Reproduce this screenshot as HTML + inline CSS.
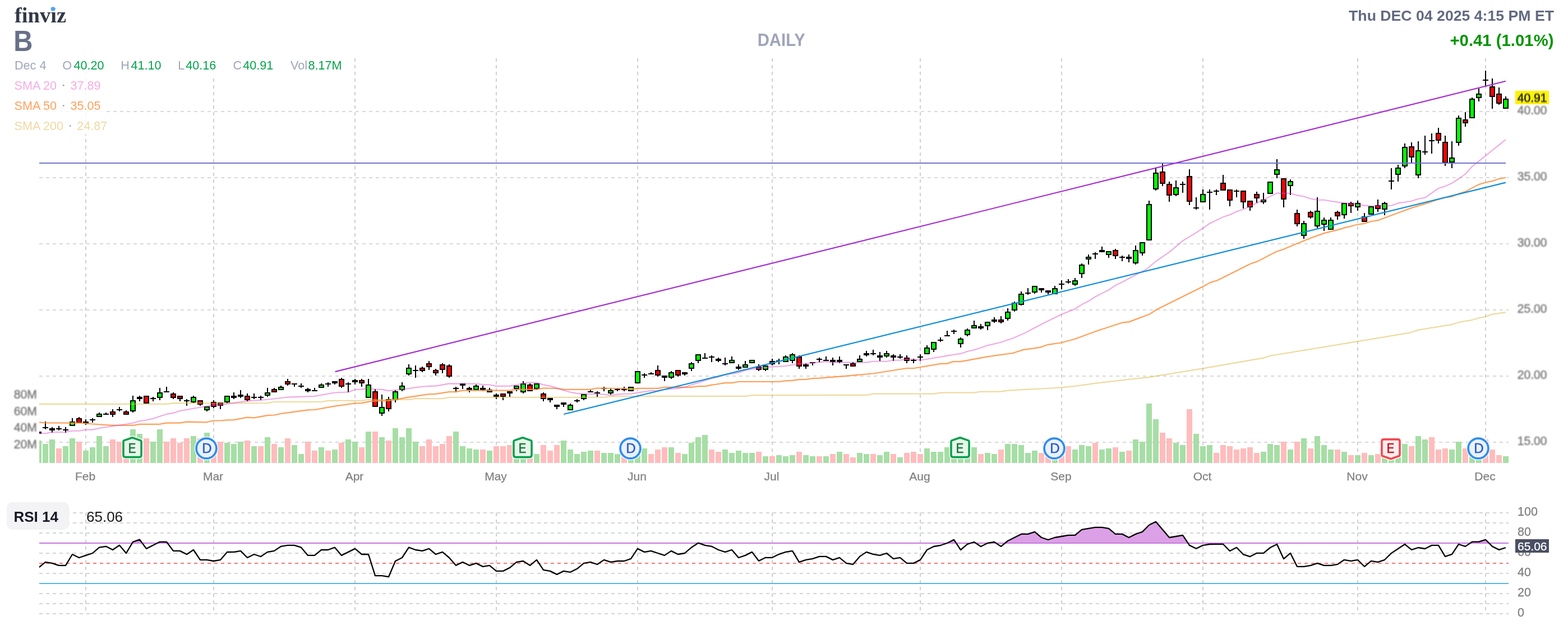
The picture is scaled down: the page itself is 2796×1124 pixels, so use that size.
<!DOCTYPE html><html><head><meta charset="utf-8"><title>B - finviz</title>
<style>html,body{margin:0;padding:0;background:#fff;}svg{display:block;will-change:transform}text{font-family:"Liberation Sans",sans-serif;}</style></head><body>
<svg width="2796" height="1124" viewBox="0 0 2796 1124">
<rect width="2796" height="1124" fill="#fff"/>
<defs><clipPath id="cp"><rect x="70" y="100" width="2620" height="730"/></clipPath><clipPath id="cr"><rect x="70" y="905" width="2620" height="200"/></clipPath><clipPath id="c70"><rect x="70" y="905" width="2620" height="64"/></clipPath><filter id="bl2" x="-5%" y="-20%" width="110%" height="140%"><feGaussianBlur stdDeviation="0.4"/></filter><filter id="bl" x="-5%" y="-20%" width="110%" height="140%"><feGaussianBlur stdDeviation="0.8"/></filter></defs>
<g stroke="#cfcfcf" stroke-width="2" stroke-dasharray="6 6" shape-rendering="crispEdges" fill="none">
<line x1="153" y1="104" x2="153" y2="826"/>
<line x1="153" y1="915" x2="153" y2="1095"/>
<line x1="381" y1="104" x2="381" y2="826"/>
<line x1="381" y1="915" x2="381" y2="1095"/>
<line x1="633" y1="104" x2="633" y2="826"/>
<line x1="633" y1="915" x2="633" y2="1095"/>
<line x1="885" y1="104" x2="885" y2="826"/>
<line x1="885" y1="915" x2="885" y2="1095"/>
<line x1="1137" y1="104" x2="1137" y2="826"/>
<line x1="1137" y1="915" x2="1137" y2="1095"/>
<line x1="1377" y1="104" x2="1377" y2="826"/>
<line x1="1377" y1="915" x2="1377" y2="1095"/>
<line x1="1641" y1="104" x2="1641" y2="826"/>
<line x1="1641" y1="915" x2="1641" y2="1095"/>
<line x1="1893" y1="104" x2="1893" y2="826"/>
<line x1="1893" y1="915" x2="1893" y2="1095"/>
<line x1="2145" y1="104" x2="2145" y2="826"/>
<line x1="2145" y1="915" x2="2145" y2="1095"/>
<line x1="2421" y1="104" x2="2421" y2="826"/>
<line x1="2421" y1="915" x2="2421" y2="1095"/>
<line x1="2649" y1="104" x2="2649" y2="826"/>
<line x1="2649" y1="915" x2="2649" y2="1095"/>
<line x1="70" y1="199" x2="2690" y2="199" stroke="#d9d9d9"/>
<line x1="70" y1="317" x2="2690" y2="317" stroke="#d9d9d9"/>
<line x1="70" y1="435" x2="2690" y2="435" stroke="#d9d9d9"/>
<line x1="70" y1="553" x2="2690" y2="553" stroke="#d9d9d9"/>
<line x1="70" y1="671" x2="2690" y2="671" stroke="#d9d9d9"/>
<line x1="70" y1="789" x2="2690" y2="789" stroke="#d9d9d9"/>
<line x1="70" y1="915" x2="2690" y2="915" stroke="#d4d4d4"/>
<line x1="70" y1="933" x2="2690" y2="933" stroke="#d4d4d4"/>
<line x1="70" y1="951" x2="2690" y2="951" stroke="#d4d4d4"/>
<line x1="70" y1="987" x2="2690" y2="987" stroke="#d4d4d4"/>
<line x1="70" y1="1023" x2="2690" y2="1023" stroke="#d4d4d4"/>
<line x1="70" y1="1059" x2="2690" y2="1059" stroke="#d4d4d4"/>
<line x1="70" y1="1077" x2="2690" y2="1077" stroke="#d4d4d4"/>
<line x1="70" y1="1095" x2="2690" y2="1095" stroke="#d4d4d4"/>
</g>
<g shape-rendering="crispEdges" clip-path="url(#cp)">
<rect x="64" y="786" width="10" height="40" fill="#a6dea5"/>
<rect x="76" y="792" width="10" height="34" fill="#a6dea5"/>
<rect x="88" y="784" width="10" height="42" fill="#a6dea5"/>
<rect x="100" y="800" width="10" height="26" fill="#ffbcbc"/>
<rect x="112" y="796" width="10" height="30" fill="#a6dea5"/>
<rect x="124" y="782" width="10" height="44" fill="#a6dea5"/>
<rect x="136" y="788" width="10" height="38" fill="#ffbcbc"/>
<rect x="148" y="804" width="10" height="22" fill="#a6dea5"/>
<rect x="160" y="798" width="10" height="28" fill="#a6dea5"/>
<rect x="172" y="778" width="10" height="48" fill="#a6dea5"/>
<rect x="184" y="796" width="10" height="30" fill="#a6dea5"/>
<rect x="196" y="784" width="10" height="42" fill="#ffbcbc"/>
<rect x="208" y="788" width="10" height="38" fill="#ffbcbc"/>
<rect x="220" y="788" width="10" height="38" fill="#ffbcbc"/>
<rect x="232" y="766" width="10" height="60" fill="#a6dea5"/>
<rect x="244" y="774" width="10" height="52" fill="#a6dea5"/>
<rect x="256" y="782" width="10" height="44" fill="#ffbcbc"/>
<rect x="268" y="788" width="10" height="38" fill="#a6dea5"/>
<rect x="280" y="766" width="10" height="60" fill="#a6dea5"/>
<rect x="292" y="788" width="10" height="38" fill="#ffbcbc"/>
<rect x="304" y="782" width="10" height="44" fill="#ffbcbc"/>
<rect x="316" y="790" width="10" height="36" fill="#ffbcbc"/>
<rect x="328" y="782" width="10" height="44" fill="#ffbcbc"/>
<rect x="340" y="778" width="10" height="48" fill="#a6dea5"/>
<rect x="352" y="782" width="10" height="44" fill="#ffbcbc"/>
<rect x="364" y="772" width="10" height="54" fill="#a6dea5"/>
<rect x="376" y="788" width="10" height="38" fill="#ffbcbc"/>
<rect x="388" y="788" width="10" height="38" fill="#ffbcbc"/>
<rect x="400" y="790" width="10" height="36" fill="#a6dea5"/>
<rect x="412" y="792" width="10" height="34" fill="#a6dea5"/>
<rect x="424" y="788" width="10" height="38" fill="#a6dea5"/>
<rect x="436" y="786" width="10" height="40" fill="#ffbcbc"/>
<rect x="448" y="796" width="10" height="30" fill="#a6dea5"/>
<rect x="460" y="796" width="10" height="30" fill="#ffbcbc"/>
<rect x="472" y="780" width="10" height="46" fill="#a6dea5"/>
<rect x="484" y="792" width="10" height="34" fill="#ffbcbc"/>
<rect x="496" y="798" width="10" height="28" fill="#a6dea5"/>
<rect x="508" y="782" width="10" height="44" fill="#ffbcbc"/>
<rect x="520" y="794" width="10" height="32" fill="#a6dea5"/>
<rect x="532" y="810" width="10" height="16" fill="#a6dea5"/>
<rect x="544" y="788" width="10" height="38" fill="#ffbcbc"/>
<rect x="556" y="804" width="10" height="22" fill="#ffbcbc"/>
<rect x="568" y="798" width="10" height="28" fill="#a6dea5"/>
<rect x="580" y="804" width="10" height="22" fill="#ffbcbc"/>
<rect x="592" y="802" width="10" height="24" fill="#a6dea5"/>
<rect x="604" y="790" width="10" height="36" fill="#ffbcbc"/>
<rect x="616" y="784" width="10" height="42" fill="#a6dea5"/>
<rect x="628" y="788" width="10" height="38" fill="#a6dea5"/>
<rect x="640" y="798" width="10" height="28" fill="#ffbcbc"/>
<rect x="652" y="770" width="10" height="56" fill="#a6dea5"/>
<rect x="664" y="770" width="10" height="56" fill="#ffbcbc"/>
<rect x="676" y="780" width="10" height="46" fill="#a6dea5"/>
<rect x="688" y="786" width="10" height="40" fill="#ffbcbc"/>
<rect x="700" y="764" width="10" height="62" fill="#a6dea5"/>
<rect x="712" y="780" width="10" height="46" fill="#a6dea5"/>
<rect x="724" y="764" width="10" height="62" fill="#a6dea5"/>
<rect x="736" y="788" width="10" height="38" fill="#a6dea5"/>
<rect x="748" y="796" width="10" height="30" fill="#ffbcbc"/>
<rect x="760" y="784" width="10" height="42" fill="#ffbcbc"/>
<rect x="772" y="796" width="10" height="30" fill="#ffbcbc"/>
<rect x="784" y="792" width="10" height="34" fill="#ffbcbc"/>
<rect x="796" y="778" width="10" height="48" fill="#ffbcbc"/>
<rect x="808" y="770" width="10" height="56" fill="#a6dea5"/>
<rect x="820" y="796" width="10" height="30" fill="#a6dea5"/>
<rect x="832" y="800" width="10" height="26" fill="#a6dea5"/>
<rect x="844" y="802" width="10" height="24" fill="#a6dea5"/>
<rect x="856" y="802" width="10" height="24" fill="#ffbcbc"/>
<rect x="868" y="804" width="10" height="22" fill="#a6dea5"/>
<rect x="880" y="796" width="10" height="30" fill="#ffbcbc"/>
<rect x="892" y="796" width="10" height="30" fill="#ffbcbc"/>
<rect x="904" y="794" width="10" height="32" fill="#ffbcbc"/>
<rect x="916" y="796" width="10" height="30" fill="#a6dea5"/>
<rect x="928" y="790" width="10" height="36" fill="#a6dea5"/>
<rect x="940" y="796" width="10" height="30" fill="#ffbcbc"/>
<rect x="952" y="810" width="10" height="16" fill="#a6dea5"/>
<rect x="964" y="794" width="10" height="32" fill="#ffbcbc"/>
<rect x="976" y="804" width="10" height="22" fill="#ffbcbc"/>
<rect x="988" y="794" width="10" height="32" fill="#ffbcbc"/>
<rect x="1000" y="786" width="10" height="40" fill="#a6dea5"/>
<rect x="1012" y="802" width="10" height="24" fill="#a6dea5"/>
<rect x="1024" y="810" width="10" height="16" fill="#a6dea5"/>
<rect x="1036" y="806" width="10" height="20" fill="#a6dea5"/>
<rect x="1048" y="804" width="10" height="22" fill="#a6dea5"/>
<rect x="1060" y="804" width="10" height="22" fill="#ffbcbc"/>
<rect x="1072" y="808" width="10" height="18" fill="#a6dea5"/>
<rect x="1084" y="808" width="10" height="18" fill="#a6dea5"/>
<rect x="1096" y="810" width="10" height="16" fill="#a6dea5"/>
<rect x="1108" y="810" width="10" height="16" fill="#ffbcbc"/>
<rect x="1120" y="806" width="10" height="20" fill="#a6dea5"/>
<rect x="1132" y="798" width="10" height="28" fill="#a6dea5"/>
<rect x="1144" y="800" width="10" height="26" fill="#a6dea5"/>
<rect x="1156" y="810" width="10" height="16" fill="#ffbcbc"/>
<rect x="1168" y="802" width="10" height="24" fill="#ffbcbc"/>
<rect x="1180" y="798" width="10" height="28" fill="#ffbcbc"/>
<rect x="1192" y="798" width="10" height="28" fill="#a6dea5"/>
<rect x="1204" y="808" width="10" height="18" fill="#ffbcbc"/>
<rect x="1216" y="810" width="10" height="16" fill="#a6dea5"/>
<rect x="1228" y="790" width="10" height="36" fill="#a6dea5"/>
<rect x="1240" y="780" width="10" height="46" fill="#a6dea5"/>
<rect x="1252" y="776" width="10" height="50" fill="#a6dea5"/>
<rect x="1264" y="802" width="10" height="24" fill="#ffbcbc"/>
<rect x="1276" y="806" width="10" height="20" fill="#ffbcbc"/>
<rect x="1288" y="802" width="10" height="24" fill="#a6dea5"/>
<rect x="1300" y="808" width="10" height="18" fill="#a6dea5"/>
<rect x="1312" y="804" width="10" height="22" fill="#a6dea5"/>
<rect x="1324" y="808" width="10" height="18" fill="#a6dea5"/>
<rect x="1336" y="808" width="10" height="18" fill="#a6dea5"/>
<rect x="1348" y="806" width="10" height="20" fill="#ffbcbc"/>
<rect x="1360" y="814" width="10" height="12" fill="#a6dea5"/>
<rect x="1372" y="814" width="10" height="12" fill="#ffbcbc"/>
<rect x="1384" y="812" width="10" height="14" fill="#a6dea5"/>
<rect x="1396" y="814" width="10" height="12" fill="#a6dea5"/>
<rect x="1408" y="812" width="10" height="14" fill="#a6dea5"/>
<rect x="1420" y="806" width="10" height="20" fill="#ffbcbc"/>
<rect x="1432" y="812" width="10" height="14" fill="#a6dea5"/>
<rect x="1444" y="814" width="10" height="12" fill="#a6dea5"/>
<rect x="1456" y="814" width="10" height="12" fill="#ffbcbc"/>
<rect x="1468" y="814" width="10" height="12" fill="#a6dea5"/>
<rect x="1480" y="810" width="10" height="16" fill="#ffbcbc"/>
<rect x="1492" y="806" width="10" height="20" fill="#a6dea5"/>
<rect x="1504" y="810" width="10" height="16" fill="#ffbcbc"/>
<rect x="1516" y="816" width="10" height="10" fill="#ffbcbc"/>
<rect x="1528" y="808" width="10" height="18" fill="#a6dea5"/>
<rect x="1540" y="810" width="10" height="16" fill="#a6dea5"/>
<rect x="1552" y="810" width="10" height="16" fill="#ffbcbc"/>
<rect x="1564" y="812" width="10" height="14" fill="#a6dea5"/>
<rect x="1576" y="806" width="10" height="20" fill="#a6dea5"/>
<rect x="1588" y="810" width="10" height="16" fill="#ffbcbc"/>
<rect x="1600" y="816" width="10" height="10" fill="#a6dea5"/>
<rect x="1612" y="808" width="10" height="18" fill="#ffbcbc"/>
<rect x="1624" y="806" width="10" height="20" fill="#ffbcbc"/>
<rect x="1636" y="810" width="10" height="16" fill="#ffbcbc"/>
<rect x="1648" y="800" width="10" height="26" fill="#a6dea5"/>
<rect x="1660" y="806" width="10" height="20" fill="#a6dea5"/>
<rect x="1672" y="806" width="10" height="20" fill="#a6dea5"/>
<rect x="1684" y="798" width="10" height="28" fill="#a6dea5"/>
<rect x="1696" y="802" width="10" height="24" fill="#a6dea5"/>
<rect x="1708" y="796" width="10" height="30" fill="#a6dea5"/>
<rect x="1720" y="800" width="10" height="26" fill="#a6dea5"/>
<rect x="1732" y="798" width="10" height="28" fill="#a6dea5"/>
<rect x="1744" y="810" width="10" height="16" fill="#ffbcbc"/>
<rect x="1756" y="808" width="10" height="18" fill="#a6dea5"/>
<rect x="1768" y="810" width="10" height="16" fill="#a6dea5"/>
<rect x="1780" y="802" width="10" height="24" fill="#ffbcbc"/>
<rect x="1792" y="792" width="10" height="34" fill="#a6dea5"/>
<rect x="1804" y="792" width="10" height="34" fill="#a6dea5"/>
<rect x="1816" y="794" width="10" height="32" fill="#a6dea5"/>
<rect x="1828" y="808" width="10" height="18" fill="#a6dea5"/>
<rect x="1840" y="804" width="10" height="22" fill="#a6dea5"/>
<rect x="1852" y="808" width="10" height="18" fill="#ffbcbc"/>
<rect x="1864" y="810" width="10" height="16" fill="#ffbcbc"/>
<rect x="1876" y="806" width="10" height="20" fill="#a6dea5"/>
<rect x="1888" y="804" width="10" height="22" fill="#ffbcbc"/>
<rect x="1900" y="796" width="10" height="30" fill="#ffbcbc"/>
<rect x="1912" y="802" width="10" height="24" fill="#a6dea5"/>
<rect x="1924" y="794" width="10" height="32" fill="#a6dea5"/>
<rect x="1936" y="796" width="10" height="30" fill="#a6dea5"/>
<rect x="1948" y="790" width="10" height="36" fill="#ffbcbc"/>
<rect x="1960" y="802" width="10" height="24" fill="#a6dea5"/>
<rect x="1972" y="800" width="10" height="26" fill="#a6dea5"/>
<rect x="1984" y="798" width="10" height="28" fill="#ffbcbc"/>
<rect x="1996" y="806" width="10" height="20" fill="#a6dea5"/>
<rect x="2008" y="804" width="10" height="22" fill="#ffbcbc"/>
<rect x="2020" y="784" width="10" height="42" fill="#a6dea5"/>
<rect x="2032" y="788" width="10" height="38" fill="#a6dea5"/>
<rect x="2044" y="720" width="10" height="106" fill="#a6dea5"/>
<rect x="2056" y="748" width="10" height="78" fill="#a6dea5"/>
<rect x="2068" y="772" width="10" height="54" fill="#ffbcbc"/>
<rect x="2080" y="782" width="10" height="44" fill="#ffbcbc"/>
<rect x="2092" y="790" width="10" height="36" fill="#a6dea5"/>
<rect x="2104" y="794" width="10" height="32" fill="#a6dea5"/>
<rect x="2116" y="730" width="10" height="96" fill="#ffbcbc"/>
<rect x="2128" y="774" width="10" height="52" fill="#a6dea5"/>
<rect x="2140" y="796" width="10" height="30" fill="#a6dea5"/>
<rect x="2152" y="794" width="10" height="32" fill="#a6dea5"/>
<rect x="2164" y="808" width="10" height="18" fill="#ffbcbc"/>
<rect x="2176" y="794" width="10" height="32" fill="#ffbcbc"/>
<rect x="2188" y="796" width="10" height="30" fill="#ffbcbc"/>
<rect x="2200" y="802" width="10" height="24" fill="#ffbcbc"/>
<rect x="2212" y="800" width="10" height="26" fill="#ffbcbc"/>
<rect x="2224" y="798" width="10" height="28" fill="#ffbcbc"/>
<rect x="2236" y="808" width="10" height="18" fill="#ffbcbc"/>
<rect x="2248" y="806" width="10" height="20" fill="#a6dea5"/>
<rect x="2260" y="792" width="10" height="34" fill="#a6dea5"/>
<rect x="2272" y="794" width="10" height="32" fill="#a6dea5"/>
<rect x="2284" y="788" width="10" height="38" fill="#ffbcbc"/>
<rect x="2296" y="802" width="10" height="24" fill="#a6dea5"/>
<rect x="2308" y="788" width="10" height="38" fill="#ffbcbc"/>
<rect x="2320" y="782" width="10" height="44" fill="#a6dea5"/>
<rect x="2332" y="800" width="10" height="26" fill="#ffbcbc"/>
<rect x="2344" y="778" width="10" height="48" fill="#a6dea5"/>
<rect x="2356" y="794" width="10" height="32" fill="#a6dea5"/>
<rect x="2368" y="802" width="10" height="24" fill="#a6dea5"/>
<rect x="2380" y="802" width="10" height="24" fill="#ffbcbc"/>
<rect x="2392" y="806" width="10" height="20" fill="#a6dea5"/>
<rect x="2404" y="812" width="10" height="14" fill="#ffbcbc"/>
<rect x="2416" y="812" width="10" height="14" fill="#a6dea5"/>
<rect x="2428" y="808" width="10" height="18" fill="#ffbcbc"/>
<rect x="2440" y="812" width="10" height="14" fill="#a6dea5"/>
<rect x="2452" y="810" width="10" height="16" fill="#ffbcbc"/>
<rect x="2464" y="806" width="10" height="20" fill="#a6dea5"/>
<rect x="2476" y="796" width="10" height="30" fill="#a6dea5"/>
<rect x="2488" y="796" width="10" height="30" fill="#a6dea5"/>
<rect x="2500" y="792" width="10" height="34" fill="#a6dea5"/>
<rect x="2512" y="796" width="10" height="30" fill="#ffbcbc"/>
<rect x="2524" y="778" width="10" height="48" fill="#a6dea5"/>
<rect x="2536" y="784" width="10" height="42" fill="#a6dea5"/>
<rect x="2548" y="780" width="10" height="46" fill="#ffbcbc"/>
<rect x="2560" y="802" width="10" height="24" fill="#ffbcbc"/>
<rect x="2572" y="800" width="10" height="26" fill="#ffbcbc"/>
<rect x="2584" y="802" width="10" height="24" fill="#a6dea5"/>
<rect x="2596" y="788" width="10" height="38" fill="#a6dea5"/>
<rect x="2608" y="800" width="10" height="26" fill="#ffbcbc"/>
<rect x="2620" y="800" width="10" height="26" fill="#a6dea5"/>
<rect x="2632" y="796" width="10" height="30" fill="#a6dea5"/>
<rect x="2644" y="784" width="10" height="42" fill="#ffbcbc"/>
<rect x="2656" y="802" width="10" height="24" fill="#ffbcbc"/>
<rect x="2668" y="812" width="10" height="14" fill="#ffbcbc"/>
<rect x="2680" y="814" width="10" height="12" fill="#a6dea5"/>
</g>
<g shape-rendering="crispEdges" clip-path="url(#cp)">
<rect x="68" y="752" width="2" height="22" fill="#000"/>
<rect x="64" y="770" width="10" height="4" fill="#000"/>
<rect x="80" y="752" width="2" height="14" fill="#000"/>
<rect x="76" y="762" width="10" height="2" fill="#000"/>
<rect x="92" y="762" width="2" height="10" fill="#000"/>
<rect x="88" y="764" width="10" height="4" fill="#000"/>
<rect x="104" y="760" width="2" height="8" fill="#000"/>
<rect x="100" y="764" width="10" height="2" fill="#000"/>
<rect x="116" y="762" width="2" height="10" fill="#000"/>
<rect x="112" y="766" width="10" height="2" fill="#000"/>
<rect x="128" y="746" width="2" height="14" fill="#000"/>
<rect x="124" y="752" width="10" height="8" fill="#000"/>
<rect x="126" y="754" width="6" height="4" fill="#00ff00"/>
<rect x="140" y="744" width="2" height="11" fill="#000"/>
<rect x="136" y="746" width="10" height="9" fill="#000"/>
<rect x="138" y="748" width="6" height="5" fill="#ff0000"/>
<rect x="152" y="748" width="2" height="10" fill="#000"/>
<rect x="148" y="752" width="10" height="4" fill="#000"/>
<rect x="164" y="746" width="2" height="8" fill="#000"/>
<rect x="160" y="748" width="10" height="2" fill="#000"/>
<rect x="176" y="736" width="2" height="8" fill="#000"/>
<rect x="172" y="738" width="10" height="6" fill="#000"/>
<rect x="174" y="740" width="6" height="2" fill="#00ff00"/>
<rect x="188" y="736" width="2" height="4" fill="#000"/>
<rect x="184" y="738" width="10" height="2" fill="#000"/>
<rect x="200" y="730" width="2" height="14" fill="#000"/>
<rect x="196" y="734" width="10" height="6" fill="#000"/>
<rect x="198" y="736" width="6" height="2" fill="#ff0000"/>
<rect x="212" y="726" width="2" height="8" fill="#000"/>
<rect x="208" y="730" width="10" height="2" fill="#000"/>
<rect x="224" y="732" width="2" height="8" fill="#000"/>
<rect x="220" y="734" width="10" height="6" fill="#000"/>
<rect x="222" y="736" width="6" height="2" fill="#ff0000"/>
<rect x="236" y="706" width="2" height="30" fill="#000"/>
<rect x="232" y="714" width="10" height="20" fill="#000"/>
<rect x="234" y="716" width="6" height="16" fill="#00ff00"/>
<rect x="248" y="706" width="2" height="10" fill="#000"/>
<rect x="244" y="708" width="10" height="4" fill="#000"/>
<rect x="260" y="706" width="2" height="13" fill="#000"/>
<rect x="256" y="706" width="10" height="14" fill="#000"/>
<rect x="258" y="708" width="6" height="10" fill="#ff0000"/>
<rect x="272" y="708" width="2" height="8" fill="#000"/>
<rect x="268" y="710" width="10" height="2" fill="#000"/>
<rect x="284" y="692" width="2" height="22" fill="#000"/>
<rect x="280" y="700" width="10" height="10" fill="#000"/>
<rect x="282" y="702" width="6" height="6" fill="#00ff00"/>
<rect x="296" y="690" width="2" height="10" fill="#000"/>
<rect x="292" y="698" width="10" height="2" fill="#000"/>
<rect x="308" y="700" width="2" height="12" fill="#000"/>
<rect x="304" y="702" width="10" height="8" fill="#000"/>
<rect x="306" y="704" width="6" height="4" fill="#ff0000"/>
<rect x="320" y="707" width="2" height="9" fill="#000"/>
<rect x="316" y="706" width="10" height="6" fill="#000"/>
<rect x="318" y="708" width="6" height="2" fill="#ff0000"/>
<rect x="332" y="712" width="2" height="12" fill="#000"/>
<rect x="328" y="714" width="10" height="2" fill="#000"/>
<rect x="344" y="706" width="2" height="13" fill="#000"/>
<rect x="340" y="708" width="10" height="10" fill="#000"/>
<rect x="342" y="710" width="6" height="6" fill="#00ff00"/>
<rect x="356" y="714" width="2" height="10" fill="#000"/>
<rect x="352" y="714" width="10" height="8" fill="#000"/>
<rect x="354" y="716" width="6" height="4" fill="#ff0000"/>
<rect x="368" y="725" width="2" height="9" fill="#000"/>
<rect x="364" y="725" width="10" height="7" fill="#000"/>
<rect x="366" y="727" width="6" height="3" fill="#00ff00"/>
<rect x="380" y="714" width="2" height="14" fill="#000"/>
<rect x="376" y="717" width="10" height="9" fill="#000"/>
<rect x="378" y="719" width="6" height="5" fill="#ff0000"/>
<rect x="392" y="718" width="2" height="12" fill="#000"/>
<rect x="388" y="718" width="10" height="6" fill="#000"/>
<rect x="390" y="720" width="6" height="2" fill="#ff0000"/>
<rect x="404" y="707" width="2" height="12" fill="#000"/>
<rect x="400" y="706" width="10" height="12" fill="#000"/>
<rect x="402" y="708" width="6" height="8" fill="#00ff00"/>
<rect x="416" y="700" width="2" height="12" fill="#000"/>
<rect x="412" y="706" width="10" height="4" fill="#000"/>
<rect x="428" y="696" width="2" height="14" fill="#000"/>
<rect x="424" y="704" width="10" height="4" fill="#000"/>
<rect x="440" y="702" width="2" height="14" fill="#000"/>
<rect x="436" y="706" width="10" height="8" fill="#000"/>
<rect x="438" y="708" width="6" height="4" fill="#ff0000"/>
<rect x="452" y="702" width="2" height="10" fill="#000"/>
<rect x="448" y="708" width="10" height="2" fill="#000"/>
<rect x="464" y="706" width="2" height="8" fill="#000"/>
<rect x="460" y="708" width="10" height="2" fill="#000"/>
<rect x="476" y="692" width="2" height="16" fill="#000"/>
<rect x="472" y="700" width="10" height="6" fill="#000"/>
<rect x="474" y="702" width="6" height="2" fill="#00ff00"/>
<rect x="488" y="692" width="2" height="8" fill="#000"/>
<rect x="484" y="694" width="10" height="6" fill="#000"/>
<rect x="486" y="696" width="6" height="2" fill="#ff0000"/>
<rect x="500" y="688" width="2" height="8" fill="#000"/>
<rect x="496" y="690" width="10" height="6" fill="#000"/>
<rect x="498" y="692" width="6" height="2" fill="#00ff00"/>
<rect x="512" y="676" width="2" height="12" fill="#000"/>
<rect x="508" y="680" width="10" height="6" fill="#000"/>
<rect x="510" y="682" width="6" height="2" fill="#ff0000"/>
<rect x="524" y="684" width="2" height="6" fill="#000"/>
<rect x="520" y="684" width="10" height="2" fill="#000"/>
<rect x="536" y="684" width="2" height="8" fill="#000"/>
<rect x="532" y="688" width="10" height="2" fill="#000"/>
<rect x="548" y="692" width="2" height="8" fill="#000"/>
<rect x="544" y="694" width="10" height="4" fill="#000"/>
<rect x="560" y="692" width="2" height="6" fill="#000"/>
<rect x="556" y="696" width="10" height="2" fill="#000"/>
<rect x="572" y="684" width="2" height="8" fill="#000"/>
<rect x="568" y="686" width="10" height="6" fill="#000"/>
<rect x="570" y="688" width="6" height="2" fill="#00ff00"/>
<rect x="584" y="682" width="2" height="8" fill="#000"/>
<rect x="580" y="684" width="10" height="2" fill="#000"/>
<rect x="596" y="680" width="2" height="6" fill="#000"/>
<rect x="592" y="680" width="10" height="4" fill="#000"/>
<rect x="608" y="674" width="2" height="18" fill="#000"/>
<rect x="604" y="676" width="10" height="14" fill="#000"/>
<rect x="606" y="678" width="6" height="10" fill="#ff0000"/>
<rect x="620" y="682" width="2" height="18" fill="#000"/>
<rect x="616" y="684" width="10" height="2" fill="#000"/>
<rect x="632" y="676" width="2" height="10" fill="#000"/>
<rect x="628" y="678" width="10" height="4" fill="#000"/>
<rect x="644" y="676" width="2" height="14" fill="#000"/>
<rect x="640" y="678" width="10" height="6" fill="#000"/>
<rect x="642" y="680" width="6" height="2" fill="#ff0000"/>
<rect x="656" y="676" width="2" height="34" fill="#000"/>
<rect x="652" y="686" width="10" height="24" fill="#000"/>
<rect x="654" y="688" width="6" height="20" fill="#00ff00"/>
<rect x="668" y="694" width="2" height="31" fill="#000"/>
<rect x="664" y="698" width="10" height="28" fill="#000"/>
<rect x="666" y="700" width="6" height="24" fill="#ff0000"/>
<rect x="680" y="704" width="2" height="38" fill="#000"/>
<rect x="676" y="726" width="10" height="12" fill="#000"/>
<rect x="678" y="728" width="6" height="8" fill="#00ff00"/>
<rect x="692" y="708" width="2" height="26" fill="#000"/>
<rect x="688" y="712" width="10" height="18" fill="#000"/>
<rect x="690" y="714" width="6" height="14" fill="#ff0000"/>
<rect x="704" y="696" width="2" height="22" fill="#000"/>
<rect x="700" y="698" width="10" height="16" fill="#000"/>
<rect x="702" y="700" width="6" height="12" fill="#00ff00"/>
<rect x="716" y="682" width="2" height="16" fill="#000"/>
<rect x="712" y="688" width="10" height="8" fill="#000"/>
<rect x="714" y="690" width="6" height="4" fill="#00ff00"/>
<rect x="728" y="650" width="2" height="20" fill="#000"/>
<rect x="724" y="656" width="10" height="12" fill="#000"/>
<rect x="726" y="658" width="6" height="8" fill="#00ff00"/>
<rect x="740" y="652" width="2" height="22" fill="#000"/>
<rect x="736" y="660" width="10" height="2" fill="#000"/>
<rect x="752" y="654" width="2" height="10" fill="#000"/>
<rect x="748" y="656" width="10" height="6" fill="#000"/>
<rect x="750" y="658" width="6" height="2" fill="#ff0000"/>
<rect x="764" y="644" width="2" height="16" fill="#000"/>
<rect x="760" y="648" width="10" height="7" fill="#000"/>
<rect x="762" y="650" width="6" height="3" fill="#ff0000"/>
<rect x="776" y="658" width="2" height="12" fill="#000"/>
<rect x="772" y="660" width="10" height="6" fill="#000"/>
<rect x="774" y="662" width="6" height="2" fill="#ff0000"/>
<rect x="788" y="648" width="2" height="18" fill="#000"/>
<rect x="784" y="650" width="10" height="10" fill="#000"/>
<rect x="786" y="652" width="6" height="6" fill="#ff0000"/>
<rect x="800" y="650" width="2" height="24" fill="#000"/>
<rect x="796" y="652" width="10" height="20" fill="#000"/>
<rect x="798" y="654" width="6" height="16" fill="#ff0000"/>
<rect x="812" y="690" width="2" height="10" fill="#000"/>
<rect x="808" y="692" width="10" height="2" fill="#000"/>
<rect x="824" y="684" width="2" height="10" fill="#000"/>
<rect x="820" y="684" width="10" height="4" fill="#000"/>
<rect x="836" y="690" width="2" height="10" fill="#000"/>
<rect x="832" y="692" width="10" height="4" fill="#000"/>
<rect x="848" y="686" width="2" height="10" fill="#000"/>
<rect x="844" y="688" width="10" height="8" fill="#000"/>
<rect x="846" y="690" width="6" height="4" fill="#00ff00"/>
<rect x="860" y="688" width="2" height="10" fill="#000"/>
<rect x="856" y="692" width="10" height="4" fill="#000"/>
<rect x="872" y="692" width="2" height="8" fill="#000"/>
<rect x="868" y="695" width="10" height="5" fill="#000"/>
<rect x="870" y="697" width="6" height="1" fill="#00ff00"/>
<rect x="884" y="702" width="2" height="10" fill="#000"/>
<rect x="880" y="704" width="10" height="4" fill="#000"/>
<rect x="896" y="703" width="2" height="11" fill="#000"/>
<rect x="892" y="702" width="10" height="6" fill="#000"/>
<rect x="894" y="704" width="6" height="2" fill="#ff0000"/>
<rect x="908" y="698" width="2" height="10" fill="#000"/>
<rect x="904" y="698" width="10" height="4" fill="#000"/>
<rect x="920" y="689" width="2" height="9" fill="#000"/>
<rect x="916" y="688" width="10" height="6" fill="#000"/>
<rect x="918" y="690" width="6" height="2" fill="#00ff00"/>
<rect x="932" y="680" width="2" height="22" fill="#000"/>
<rect x="928" y="684" width="10" height="16" fill="#000"/>
<rect x="930" y="686" width="6" height="12" fill="#00ff00"/>
<rect x="944" y="684" width="2" height="13" fill="#000"/>
<rect x="940" y="686" width="10" height="12" fill="#000"/>
<rect x="942" y="688" width="6" height="8" fill="#ff0000"/>
<rect x="956" y="684" width="2" height="12" fill="#000"/>
<rect x="952" y="684" width="10" height="10" fill="#000"/>
<rect x="954" y="686" width="6" height="6" fill="#00ff00"/>
<rect x="968" y="700" width="2" height="16" fill="#000"/>
<rect x="964" y="702" width="10" height="10" fill="#000"/>
<rect x="966" y="704" width="6" height="6" fill="#ff0000"/>
<rect x="980" y="710" width="2" height="8" fill="#000"/>
<rect x="976" y="710" width="10" height="4" fill="#000"/>
<rect x="992" y="722" width="2" height="8" fill="#000"/>
<rect x="988" y="722" width="10" height="4" fill="#000"/>
<rect x="1004" y="718" width="2" height="8" fill="#000"/>
<rect x="1000" y="718" width="10" height="4" fill="#000"/>
<rect x="1016" y="720" width="2" height="12" fill="#000"/>
<rect x="1012" y="722" width="10" height="10" fill="#000"/>
<rect x="1014" y="724" width="6" height="6" fill="#00ff00"/>
<rect x="1028" y="712" width="2" height="6" fill="#000"/>
<rect x="1024" y="714" width="10" height="2" fill="#000"/>
<rect x="1040" y="703" width="2" height="11" fill="#000"/>
<rect x="1036" y="703" width="10" height="9" fill="#000"/>
<rect x="1038" y="705" width="6" height="5" fill="#00ff00"/>
<rect x="1052" y="695" width="2" height="5" fill="#000"/>
<rect x="1048" y="698" width="10" height="2" fill="#000"/>
<rect x="1064" y="698" width="2" height="10" fill="#000"/>
<rect x="1060" y="700" width="10" height="2" fill="#000"/>
<rect x="1076" y="690" width="2" height="8" fill="#000"/>
<rect x="1072" y="692" width="10" height="2" fill="#000"/>
<rect x="1088" y="693" width="2" height="11" fill="#000"/>
<rect x="1084" y="696" width="10" height="6" fill="#000"/>
<rect x="1086" y="698" width="6" height="2" fill="#00ff00"/>
<rect x="1100" y="692" width="2" height="6" fill="#000"/>
<rect x="1096" y="694" width="10" height="2" fill="#000"/>
<rect x="1112" y="690" width="2" height="8" fill="#000"/>
<rect x="1108" y="694" width="10" height="2" fill="#000"/>
<rect x="1124" y="690" width="2" height="8" fill="#000"/>
<rect x="1120" y="690" width="10" height="8" fill="#000"/>
<rect x="1122" y="692" width="6" height="4" fill="#00ff00"/>
<rect x="1136" y="662" width="2" height="22" fill="#000"/>
<rect x="1132" y="662" width="10" height="22" fill="#000"/>
<rect x="1134" y="664" width="6" height="18" fill="#00ff00"/>
<rect x="1148" y="666" width="2" height="8" fill="#000"/>
<rect x="1144" y="668" width="10" height="2" fill="#000"/>
<rect x="1160" y="664" width="2" height="4" fill="#000"/>
<rect x="1156" y="666" width="10" height="2" fill="#000"/>
<rect x="1172" y="652" width="2" height="20" fill="#000"/>
<rect x="1168" y="660" width="10" height="10" fill="#000"/>
<rect x="1170" y="662" width="6" height="6" fill="#ff0000"/>
<rect x="1184" y="670" width="2" height="10" fill="#000"/>
<rect x="1180" y="670" width="10" height="4" fill="#000"/>
<rect x="1196" y="662" width="2" height="14" fill="#000"/>
<rect x="1192" y="664" width="10" height="10" fill="#000"/>
<rect x="1194" y="666" width="6" height="6" fill="#00ff00"/>
<rect x="1208" y="661" width="2" height="11" fill="#000"/>
<rect x="1204" y="660" width="10" height="10" fill="#000"/>
<rect x="1206" y="662" width="6" height="6" fill="#ff0000"/>
<rect x="1220" y="664" width="2" height="6" fill="#000"/>
<rect x="1216" y="664" width="10" height="4" fill="#000"/>
<rect x="1232" y="646" width="2" height="16" fill="#000"/>
<rect x="1228" y="648" width="10" height="10" fill="#000"/>
<rect x="1230" y="650" width="6" height="6" fill="#00ff00"/>
<rect x="1244" y="632" width="2" height="16" fill="#000"/>
<rect x="1240" y="632" width="10" height="12" fill="#000"/>
<rect x="1242" y="634" width="6" height="8" fill="#00ff00"/>
<rect x="1256" y="630" width="2" height="10" fill="#000"/>
<rect x="1252" y="638" width="10" height="2" fill="#000"/>
<rect x="1268" y="634" width="2" height="12" fill="#000"/>
<rect x="1264" y="636" width="10" height="2" fill="#000"/>
<rect x="1280" y="638" width="2" height="8" fill="#000"/>
<rect x="1276" y="640" width="10" height="4" fill="#000"/>
<rect x="1292" y="638" width="2" height="14" fill="#000"/>
<rect x="1288" y="648" width="10" height="2" fill="#000"/>
<rect x="1304" y="636" width="2" height="11" fill="#000"/>
<rect x="1300" y="642" width="10" height="6" fill="#000"/>
<rect x="1302" y="644" width="6" height="2" fill="#00ff00"/>
<rect x="1316" y="650" width="2" height="10" fill="#000"/>
<rect x="1312" y="654" width="10" height="4" fill="#000"/>
<rect x="1328" y="644" width="2" height="12" fill="#000"/>
<rect x="1324" y="650" width="10" height="6" fill="#000"/>
<rect x="1326" y="652" width="6" height="2" fill="#00ff00"/>
<rect x="1340" y="642" width="2" height="5" fill="#000"/>
<rect x="1336" y="642" width="10" height="6" fill="#000"/>
<rect x="1338" y="644" width="6" height="2" fill="#00ff00"/>
<rect x="1352" y="650" width="2" height="12" fill="#000"/>
<rect x="1348" y="654" width="10" height="6" fill="#000"/>
<rect x="1350" y="656" width="6" height="2" fill="#ff0000"/>
<rect x="1364" y="653" width="2" height="9" fill="#000"/>
<rect x="1360" y="652" width="10" height="8" fill="#000"/>
<rect x="1362" y="654" width="6" height="4" fill="#00ff00"/>
<rect x="1376" y="640" width="2" height="12" fill="#000"/>
<rect x="1372" y="644" width="10" height="6" fill="#000"/>
<rect x="1374" y="646" width="6" height="2" fill="#ff0000"/>
<rect x="1388" y="640" width="2" height="10" fill="#000"/>
<rect x="1384" y="643" width="10" height="2" fill="#000"/>
<rect x="1400" y="634" width="2" height="12" fill="#000"/>
<rect x="1396" y="636" width="10" height="10" fill="#000"/>
<rect x="1398" y="638" width="6" height="6" fill="#00ff00"/>
<rect x="1412" y="630" width="2" height="18" fill="#000"/>
<rect x="1408" y="632" width="10" height="12" fill="#000"/>
<rect x="1410" y="634" width="6" height="8" fill="#00ff00"/>
<rect x="1424" y="634" width="2" height="24" fill="#000"/>
<rect x="1420" y="636" width="10" height="18" fill="#000"/>
<rect x="1422" y="638" width="6" height="14" fill="#ff0000"/>
<rect x="1436" y="648" width="2" height="10" fill="#000"/>
<rect x="1432" y="650" width="10" height="4" fill="#000"/>
<rect x="1448" y="646" width="2" height="6" fill="#000"/>
<rect x="1444" y="646" width="10" height="2" fill="#000"/>
<rect x="1460" y="638" width="2" height="8" fill="#000"/>
<rect x="1456" y="640" width="10" height="2" fill="#000"/>
<rect x="1472" y="636" width="2" height="8" fill="#000"/>
<rect x="1468" y="642" width="10" height="2" fill="#000"/>
<rect x="1484" y="638" width="2" height="14" fill="#000"/>
<rect x="1480" y="642" width="10" height="4" fill="#000"/>
<rect x="1496" y="636" width="2" height="12" fill="#000"/>
<rect x="1492" y="642" width="10" height="4" fill="#000"/>
<rect x="1508" y="650" width="2" height="8" fill="#000"/>
<rect x="1504" y="650" width="10" height="2" fill="#000"/>
<rect x="1520" y="646" width="2" height="7" fill="#000"/>
<rect x="1516" y="648" width="10" height="6" fill="#000"/>
<rect x="1518" y="650" width="6" height="2" fill="#ff0000"/>
<rect x="1532" y="634" width="2" height="11" fill="#000"/>
<rect x="1528" y="640" width="10" height="6" fill="#000"/>
<rect x="1530" y="642" width="6" height="2" fill="#00ff00"/>
<rect x="1544" y="626" width="2" height="10" fill="#000"/>
<rect x="1540" y="630" width="10" height="4" fill="#000"/>
<rect x="1556" y="624" width="2" height="10" fill="#000"/>
<rect x="1552" y="630" width="10" height="2" fill="#000"/>
<rect x="1568" y="628" width="2" height="16" fill="#000"/>
<rect x="1564" y="634" width="10" height="4" fill="#000"/>
<rect x="1580" y="626" width="2" height="12" fill="#000"/>
<rect x="1576" y="630" width="10" height="6" fill="#000"/>
<rect x="1578" y="632" width="6" height="2" fill="#00ff00"/>
<rect x="1592" y="632" width="2" height="12" fill="#000"/>
<rect x="1588" y="634" width="10" height="4" fill="#000"/>
<rect x="1604" y="632" width="2" height="8" fill="#000"/>
<rect x="1600" y="636" width="10" height="2" fill="#000"/>
<rect x="1616" y="634" width="2" height="14" fill="#000"/>
<rect x="1612" y="638" width="10" height="6" fill="#000"/>
<rect x="1614" y="640" width="6" height="2" fill="#ff0000"/>
<rect x="1628" y="640" width="2" height="8" fill="#000"/>
<rect x="1624" y="642" width="10" height="2" fill="#000"/>
<rect x="1640" y="632" width="2" height="12" fill="#000"/>
<rect x="1636" y="636" width="10" height="2" fill="#000"/>
<rect x="1652" y="616" width="2" height="15" fill="#000"/>
<rect x="1648" y="620" width="10" height="12" fill="#000"/>
<rect x="1650" y="622" width="6" height="8" fill="#00ff00"/>
<rect x="1664" y="611" width="2" height="17" fill="#000"/>
<rect x="1660" y="610" width="10" height="14" fill="#000"/>
<rect x="1662" y="612" width="6" height="10" fill="#00ff00"/>
<rect x="1676" y="602" width="2" height="8" fill="#000"/>
<rect x="1672" y="606" width="10" height="2" fill="#000"/>
<rect x="1688" y="590" width="2" height="10" fill="#000"/>
<rect x="1684" y="598" width="10" height="2" fill="#000"/>
<rect x="1700" y="588" width="2" height="8" fill="#000"/>
<rect x="1696" y="590" width="10" height="2" fill="#000"/>
<rect x="1712" y="602" width="2" height="18" fill="#000"/>
<rect x="1708" y="604" width="10" height="10" fill="#000"/>
<rect x="1710" y="606" width="6" height="6" fill="#00ff00"/>
<rect x="1724" y="586" width="2" height="14" fill="#000"/>
<rect x="1720" y="588" width="10" height="10" fill="#000"/>
<rect x="1722" y="590" width="6" height="6" fill="#00ff00"/>
<rect x="1736" y="572" width="2" height="13" fill="#000"/>
<rect x="1732" y="580" width="10" height="6" fill="#000"/>
<rect x="1734" y="582" width="6" height="2" fill="#00ff00"/>
<rect x="1748" y="578" width="2" height="10" fill="#000"/>
<rect x="1744" y="582" width="10" height="4" fill="#000"/>
<rect x="1760" y="574" width="2" height="15" fill="#000"/>
<rect x="1756" y="574" width="10" height="8" fill="#000"/>
<rect x="1758" y="576" width="6" height="4" fill="#00ff00"/>
<rect x="1772" y="566" width="2" height="10" fill="#000"/>
<rect x="1768" y="570" width="10" height="4" fill="#000"/>
<rect x="1784" y="564" width="2" height="13" fill="#000"/>
<rect x="1780" y="570" width="10" height="5" fill="#000"/>
<rect x="1782" y="572" width="6" height="1" fill="#ff0000"/>
<rect x="1796" y="550" width="2" height="22" fill="#000"/>
<rect x="1792" y="556" width="10" height="13" fill="#000"/>
<rect x="1794" y="558" width="6" height="9" fill="#00ff00"/>
<rect x="1808" y="538" width="2" height="18" fill="#000"/>
<rect x="1804" y="540" width="10" height="14" fill="#000"/>
<rect x="1806" y="542" width="6" height="10" fill="#00ff00"/>
<rect x="1820" y="520" width="2" height="25" fill="#000"/>
<rect x="1816" y="524" width="10" height="20" fill="#000"/>
<rect x="1818" y="526" width="6" height="16" fill="#00ff00"/>
<rect x="1832" y="514" width="2" height="12" fill="#000"/>
<rect x="1828" y="522" width="10" height="2" fill="#000"/>
<rect x="1844" y="511" width="2" height="13" fill="#000"/>
<rect x="1840" y="510" width="10" height="12" fill="#000"/>
<rect x="1842" y="512" width="6" height="8" fill="#00ff00"/>
<rect x="1856" y="515" width="2" height="7" fill="#000"/>
<rect x="1852" y="514" width="10" height="4" fill="#000"/>
<rect x="1868" y="519" width="2" height="6" fill="#000"/>
<rect x="1864" y="518" width="10" height="4" fill="#000"/>
<rect x="1880" y="510" width="2" height="15" fill="#000"/>
<rect x="1876" y="514" width="10" height="11" fill="#000"/>
<rect x="1878" y="516" width="6" height="7" fill="#00ff00"/>
<rect x="1892" y="500" width="2" height="16" fill="#000"/>
<rect x="1888" y="506" width="10" height="2" fill="#000"/>
<rect x="1904" y="498" width="2" height="8" fill="#000"/>
<rect x="1900" y="502" width="10" height="2" fill="#000"/>
<rect x="1916" y="496" width="2" height="14" fill="#000"/>
<rect x="1912" y="500" width="10" height="8" fill="#000"/>
<rect x="1914" y="502" width="6" height="4" fill="#00ff00"/>
<rect x="1928" y="470" width="2" height="26" fill="#000"/>
<rect x="1924" y="472" width="10" height="17" fill="#000"/>
<rect x="1926" y="474" width="6" height="13" fill="#00ff00"/>
<rect x="1940" y="454" width="2" height="18" fill="#000"/>
<rect x="1936" y="458" width="10" height="5" fill="#000"/>
<rect x="1938" y="460" width="6" height="1" fill="#00ff00"/>
<rect x="1952" y="450" width="2" height="12" fill="#000"/>
<rect x="1948" y="452" width="10" height="2" fill="#000"/>
<rect x="1964" y="440" width="2" height="10" fill="#000"/>
<rect x="1960" y="446" width="10" height="4" fill="#000"/>
<rect x="1976" y="449" width="2" height="11" fill="#000"/>
<rect x="1972" y="448" width="10" height="7" fill="#000"/>
<rect x="1974" y="450" width="6" height="3" fill="#00ff00"/>
<rect x="1988" y="444" width="2" height="18" fill="#000"/>
<rect x="1984" y="446" width="10" height="11" fill="#000"/>
<rect x="1986" y="448" width="6" height="7" fill="#ff0000"/>
<rect x="2000" y="456" width="2" height="10" fill="#000"/>
<rect x="1996" y="458" width="10" height="2" fill="#000"/>
<rect x="2012" y="454" width="2" height="14" fill="#000"/>
<rect x="2008" y="458" width="10" height="4" fill="#000"/>
<rect x="2024" y="438" width="2" height="34" fill="#000"/>
<rect x="2020" y="446" width="10" height="24" fill="#000"/>
<rect x="2022" y="448" width="6" height="20" fill="#00ff00"/>
<rect x="2036" y="432" width="2" height="24" fill="#000"/>
<rect x="2032" y="432" width="10" height="20" fill="#000"/>
<rect x="2034" y="434" width="6" height="16" fill="#00ff00"/>
<rect x="2048" y="358" width="2" height="71" fill="#000"/>
<rect x="2044" y="364" width="10" height="65" fill="#000"/>
<rect x="2046" y="366" width="6" height="61" fill="#00ff00"/>
<rect x="2060" y="300" width="2" height="40" fill="#000"/>
<rect x="2056" y="308" width="10" height="30" fill="#000"/>
<rect x="2058" y="310" width="6" height="26" fill="#00ff00"/>
<rect x="2072" y="290" width="2" height="42" fill="#000"/>
<rect x="2068" y="306" width="10" height="22" fill="#000"/>
<rect x="2070" y="308" width="6" height="18" fill="#ff0000"/>
<rect x="2084" y="324" width="2" height="36" fill="#000"/>
<rect x="2080" y="328" width="10" height="21" fill="#000"/>
<rect x="2082" y="330" width="6" height="17" fill="#ff0000"/>
<rect x="2096" y="322" width="2" height="28" fill="#000"/>
<rect x="2092" y="334" width="10" height="14" fill="#000"/>
<rect x="2094" y="336" width="6" height="10" fill="#00ff00"/>
<rect x="2108" y="324" width="2" height="20" fill="#000"/>
<rect x="2104" y="328" width="10" height="2" fill="#000"/>
<rect x="2120" y="302" width="2" height="64" fill="#000"/>
<rect x="2116" y="314" width="10" height="46" fill="#000"/>
<rect x="2118" y="316" width="6" height="42" fill="#ff0000"/>
<rect x="2132" y="352" width="2" height="22" fill="#000"/>
<rect x="2128" y="370" width="10" height="2" fill="#000"/>
<rect x="2144" y="338" width="2" height="23" fill="#000"/>
<rect x="2140" y="346" width="10" height="15" fill="#000"/>
<rect x="2142" y="348" width="6" height="11" fill="#00ff00"/>
<rect x="2156" y="338" width="2" height="36" fill="#000"/>
<rect x="2152" y="342" width="10" height="2" fill="#000"/>
<rect x="2168" y="338" width="2" height="10" fill="#000"/>
<rect x="2164" y="340" width="10" height="2" fill="#000"/>
<rect x="2180" y="312" width="2" height="27" fill="#000"/>
<rect x="2176" y="326" width="10" height="14" fill="#000"/>
<rect x="2178" y="328" width="6" height="10" fill="#ff0000"/>
<rect x="2192" y="338" width="2" height="30" fill="#000"/>
<rect x="2188" y="338" width="10" height="20" fill="#000"/>
<rect x="2190" y="340" width="6" height="16" fill="#ff0000"/>
<rect x="2204" y="338" width="2" height="14" fill="#000"/>
<rect x="2200" y="340" width="10" height="2" fill="#000"/>
<rect x="2216" y="341" width="2" height="31" fill="#000"/>
<rect x="2212" y="340" width="10" height="21" fill="#000"/>
<rect x="2214" y="342" width="6" height="17" fill="#ff0000"/>
<rect x="2228" y="359" width="2" height="17" fill="#000"/>
<rect x="2224" y="358" width="10" height="12" fill="#000"/>
<rect x="2226" y="360" width="6" height="8" fill="#ff0000"/>
<rect x="2240" y="342" width="2" height="20" fill="#000"/>
<rect x="2236" y="346" width="10" height="8" fill="#000"/>
<rect x="2238" y="348" width="6" height="4" fill="#ff0000"/>
<rect x="2252" y="344" width="2" height="20" fill="#000"/>
<rect x="2248" y="356" width="10" height="5" fill="#000"/>
<rect x="2250" y="358" width="6" height="1" fill="#00ff00"/>
<rect x="2264" y="325" width="2" height="20" fill="#000"/>
<rect x="2260" y="324" width="10" height="22" fill="#000"/>
<rect x="2262" y="326" width="6" height="18" fill="#00ff00"/>
<rect x="2276" y="284" width="2" height="34" fill="#000"/>
<rect x="2272" y="302" width="10" height="10" fill="#000"/>
<rect x="2274" y="304" width="6" height="6" fill="#00ff00"/>
<rect x="2288" y="318" width="2" height="52" fill="#000"/>
<rect x="2284" y="318" width="10" height="38" fill="#000"/>
<rect x="2286" y="320" width="6" height="34" fill="#ff0000"/>
<rect x="2300" y="320" width="2" height="28" fill="#000"/>
<rect x="2296" y="323" width="10" height="9" fill="#000"/>
<rect x="2298" y="325" width="6" height="5" fill="#00ff00"/>
<rect x="2312" y="374" width="2" height="30" fill="#000"/>
<rect x="2308" y="380" width="10" height="20" fill="#000"/>
<rect x="2310" y="382" width="6" height="16" fill="#ff0000"/>
<rect x="2324" y="394" width="2" height="32" fill="#000"/>
<rect x="2320" y="398" width="10" height="23" fill="#000"/>
<rect x="2322" y="400" width="6" height="19" fill="#00ff00"/>
<rect x="2336" y="376" width="2" height="14" fill="#000"/>
<rect x="2332" y="378" width="10" height="10" fill="#000"/>
<rect x="2334" y="380" width="6" height="6" fill="#ff0000"/>
<rect x="2348" y="352" width="2" height="55" fill="#000"/>
<rect x="2344" y="376" width="10" height="28" fill="#000"/>
<rect x="2346" y="378" width="6" height="24" fill="#00ff00"/>
<rect x="2360" y="388" width="2" height="24" fill="#000"/>
<rect x="2356" y="392" width="10" height="9" fill="#000"/>
<rect x="2358" y="394" width="6" height="5" fill="#00ff00"/>
<rect x="2372" y="388" width="2" height="21" fill="#000"/>
<rect x="2368" y="392" width="10" height="18" fill="#000"/>
<rect x="2370" y="394" width="6" height="14" fill="#00ff00"/>
<rect x="2384" y="376" width="2" height="16" fill="#000"/>
<rect x="2380" y="378" width="10" height="8" fill="#000"/>
<rect x="2382" y="380" width="6" height="4" fill="#ff0000"/>
<rect x="2396" y="363" width="2" height="27" fill="#000"/>
<rect x="2392" y="362" width="10" height="22" fill="#000"/>
<rect x="2394" y="364" width="6" height="18" fill="#00ff00"/>
<rect x="2408" y="360" width="2" height="20" fill="#000"/>
<rect x="2404" y="362" width="10" height="6" fill="#000"/>
<rect x="2406" y="364" width="6" height="2" fill="#ff0000"/>
<rect x="2420" y="358" width="2" height="18" fill="#000"/>
<rect x="2416" y="362" width="10" height="8" fill="#000"/>
<rect x="2418" y="364" width="6" height="4" fill="#00ff00"/>
<rect x="2432" y="380" width="2" height="15" fill="#000"/>
<rect x="2428" y="386" width="10" height="10" fill="#000"/>
<rect x="2430" y="388" width="6" height="6" fill="#ff0000"/>
<rect x="2444" y="369" width="2" height="14" fill="#000"/>
<rect x="2440" y="368" width="10" height="15" fill="#000"/>
<rect x="2442" y="370" width="6" height="11" fill="#00ff00"/>
<rect x="2456" y="356" width="2" height="22" fill="#000"/>
<rect x="2452" y="366" width="10" height="7" fill="#000"/>
<rect x="2454" y="368" width="6" height="3" fill="#ff0000"/>
<rect x="2468" y="360" width="2" height="24" fill="#000"/>
<rect x="2464" y="362" width="10" height="12" fill="#000"/>
<rect x="2466" y="364" width="6" height="8" fill="#00ff00"/>
<rect x="2480" y="300" width="2" height="38" fill="#000"/>
<rect x="2476" y="322" width="10" height="2" fill="#000"/>
<rect x="2492" y="294" width="2" height="30" fill="#000"/>
<rect x="2488" y="299" width="10" height="13" fill="#000"/>
<rect x="2490" y="301" width="6" height="9" fill="#00ff00"/>
<rect x="2504" y="256" width="2" height="44" fill="#000"/>
<rect x="2500" y="262" width="10" height="35" fill="#000"/>
<rect x="2502" y="264" width="6" height="31" fill="#00ff00"/>
<rect x="2516" y="254" width="2" height="36" fill="#000"/>
<rect x="2512" y="261" width="10" height="20" fill="#000"/>
<rect x="2514" y="263" width="6" height="16" fill="#ff0000"/>
<rect x="2528" y="252" width="2" height="66" fill="#000"/>
<rect x="2524" y="268" width="10" height="45" fill="#000"/>
<rect x="2526" y="270" width="6" height="41" fill="#00ff00"/>
<rect x="2540" y="242" width="2" height="34" fill="#000"/>
<rect x="2536" y="270" width="10" height="2" fill="#000"/>
<rect x="2552" y="238" width="2" height="36" fill="#000"/>
<rect x="2548" y="250" width="10" height="2" fill="#000"/>
<rect x="2564" y="228" width="2" height="28" fill="#000"/>
<rect x="2560" y="237" width="10" height="14" fill="#000"/>
<rect x="2562" y="239" width="6" height="10" fill="#ff0000"/>
<rect x="2576" y="242" width="2" height="54" fill="#000"/>
<rect x="2572" y="253" width="10" height="38" fill="#000"/>
<rect x="2574" y="255" width="6" height="34" fill="#ff0000"/>
<rect x="2588" y="252" width="2" height="48" fill="#000"/>
<rect x="2584" y="281" width="10" height="9" fill="#000"/>
<rect x="2586" y="283" width="6" height="5" fill="#00ff00"/>
<rect x="2600" y="206" width="2" height="54" fill="#000"/>
<rect x="2596" y="210" width="10" height="45" fill="#000"/>
<rect x="2598" y="212" width="6" height="41" fill="#00ff00"/>
<rect x="2612" y="200" width="2" height="26" fill="#000"/>
<rect x="2608" y="213" width="10" height="7" fill="#000"/>
<rect x="2610" y="215" width="6" height="3" fill="#ff0000"/>
<rect x="2624" y="174" width="2" height="37" fill="#000"/>
<rect x="2620" y="176" width="10" height="35" fill="#000"/>
<rect x="2622" y="178" width="6" height="31" fill="#00ff00"/>
<rect x="2636" y="158" width="2" height="23" fill="#000"/>
<rect x="2632" y="167" width="10" height="8" fill="#000"/>
<rect x="2634" y="169" width="6" height="4" fill="#00ff00"/>
<rect x="2648" y="126" width="2" height="29" fill="#000"/>
<rect x="2644" y="142" width="10" height="2" fill="#000"/>
<rect x="2660" y="140" width="2" height="54" fill="#000"/>
<rect x="2656" y="154" width="10" height="19" fill="#000"/>
<rect x="2658" y="156" width="6" height="15" fill="#ff0000"/>
<rect x="2672" y="156" width="2" height="31" fill="#000"/>
<rect x="2668" y="167" width="10" height="18" fill="#000"/>
<rect x="2670" y="169" width="6" height="14" fill="#ff0000"/>
<rect x="2684" y="172" width="2" height="22" fill="#000"/>
<rect x="2680" y="176" width="10" height="18" fill="#000"/>
<rect x="2682" y="178" width="6" height="14" fill="#00ff00"/>
</g>
<g clip-path="url(#cp)">
<polyline points="70.0,720.8 298.0,720.8 309.0,719.2 410.0,719.5 477.0,719.1 489.0,717.0 573.0,717.0 585.0,714.9 645.0,714.9 657.0,712.8 729.0,712.8 741.0,711.1 789.0,711.1 801.0,708.9 1077.0,708.9 1089.0,707.1 1120.0,706.9 1329.0,706.9 1341.0,705.1 1545.0,704.9 1557.7,702.6 1665.0,702.6 1677.6,700.6 1735.6,700.6 1748.0,698.8 1783.5,698.6 1796.0,696.8 1829.0,694.8 1866.8,693.0 1892.0,691.3 1917.3,688.8 1955.0,683.7 1993.0,679.2 2050.0,672.8 2145.0,657.3 2252.7,638.6 2265.5,634.7 2421.0,609.1 2514.0,593.7 2529.4,588.6 2588.3,579.1 2601.0,575.0 2624.0,571.2 2637.0,567.3 2649.0,565.0 2660.0,560.9 2685.0,557.1" fill="none" stroke="#ddb541" stroke-width="2.2" stroke-linejoin="round" stroke-opacity="0.5"/>
<polyline points="70.0,753.3 81.0,754.5 144.0,754.7 165.0,756.5 200.0,758.9 237.8,758.9 249.0,756.8 284.0,756.8 296.6,754.7 320.0,754.7 333.0,752.6 368.0,753.3 380.5,750.5 393.0,750.5 405.8,749.3 417.0,749.2 441.0,744.7 453.0,745.3 477.0,741.1 489.0,740.5 501.0,738.0 513.0,736.3 549.0,731.3 561.0,731.0 597.0,724.7 633.0,719.5 645.0,719.1 657.0,716.7 669.0,715.3 693.0,714.9 705.0,712.8 729.0,708.6 765.0,703.3 777.0,702.9 801.0,699.1 813.0,699.1 825.0,696.7 909.0,696.7 921.0,694.9 957.0,694.9 969.0,692.5 993.0,692.8 1005.0,694.9 1053.0,694.9 1065.0,692.5 1113.0,693.0 1125.0,694.7 1137.0,692.9 1173.0,692.9 1185.0,690.8 1233.0,690.8 1245.0,689.1 1257.0,689.1 1269.0,686.9 1293.0,683.1 1305.0,683.1 1317.0,681.0 1389.0,681.0 1401.0,679.3 1413.0,678.9 1425.0,677.1 1437.0,676.8 1449.0,675.1 1461.0,674.7 1483.0,672.8 1508.5,670.8 1556.4,666.5 1617.0,657.0 1629.6,657.0 1677.6,648.9 1687.7,648.9 1700.0,645.1 1713.0,645.1 1760.8,636.3 1806.0,630.0 1824.0,624.1 1854.0,619.9 1869.0,614.8 1892.0,611.5 1917.0,604.7 1955.0,590.8 2000.6,575.7 2013.0,574.4 2040.0,564.3 2050.0,560.4 2063.0,552.0 2145.0,511.2 2157.9,504.1 2170.7,500.2 2229.6,470.7 2242.4,466.4 2275.7,449.0 2288.0,445.0 2313.0,434.4 2337.0,424.8 2361.0,416.1 2385.0,410.1 2397.0,406.6 2421.0,400.5 2433.0,398.8 2445.0,395.0 2457.0,393.2 2469.0,388.7 2493.0,379.8 2517.0,370.9 2541.0,363.6 2565.0,355.6 2577.0,352.3 2589.0,350.8 2601.0,345.5 2613.0,341.9 2625.0,335.4 2637.0,329.1 2649.0,325.5 2661.0,323.1 2673.0,319.0 2685.0,317.0" fill="none" stroke="#ff9140" stroke-width="2.2" stroke-linejoin="round" stroke-opacity="0.88"/>
<polyline points="70.0,773.3 81.0,773.3 92.9,771.0 116.0,771.0 128.9,768.7 141.2,768.7 153.0,766.6 165.0,766.6 177.0,764.0 201.0,760.3 213.0,758.5 225.0,756.8 237.0,754.7 249.0,751.2 261.0,749.5 273.0,746.7 285.0,742.8 297.0,738.9 309.0,736.9 321.0,733.0 333.0,730.9 345.0,728.8 357.0,726.7 369.0,724.6 381.0,722.9 393.0,722.5 405.0,720.4 417.0,718.9 441.0,715.6 477.0,712.8 513.0,708.6 561.0,706.9 597.0,700.5 621.0,699.5 633.0,695.3 645.0,694.6 657.0,692.9 669.0,694.6 681.0,694.9 693.0,697.1 705.0,696.0 717.0,694.8 729.0,693.0 741.0,691.2 753.0,689.7 765.0,688.9 777.0,688.6 801.0,684.4 849.0,684.7 861.0,686.1 873.0,686.5 885.0,688.9 909.0,688.6 921.0,686.5 933.0,684.1 945.0,682.3 957.0,682.6 969.0,686.5 981.0,688.6 993.0,692.5 1005.0,696.3 1017.0,699.8 1029.0,701.9 1041.0,702.9 1065.0,702.9 1077.0,703.7 1089.0,705.1 1101.0,703.6 1113.0,702.8 1125.0,702.7 1137.0,700.6 1161.0,697.1 1173.0,696.7 1185.0,695.0 1197.0,693.9 1209.0,692.9 1221.0,690.8 1233.0,686.6 1245.0,683.1 1257.0,678.9 1269.0,675.1 1281.0,672.6 1293.0,668.7 1305.0,666.7 1317.0,664.9 1329.0,660.7 1341.0,658.6 1353.0,656.9 1365.0,655.1 1377.0,654.4 1389.0,653.7 1401.0,653.0 1413.0,650.9 1425.0,648.8 1437.0,648.8 1449.0,647.4 1461.0,646.4 1473.0,645.1 1485.0,646.6 1509.0,646.6 1545.0,646.6 1557.0,644.8 1581.0,644.8 1593.0,642.8 1605.0,642.5 1617.0,640.7 1629.0,640.7 1641.0,642.8 1653.0,640.7 1665.0,638.7 1677.0,636.7 1689.0,634.6 1701.0,632.8 1713.0,630.9 1725.0,627.0 1737.0,624.3 1749.0,620.6 1760.0,616.5 1783.5,611.0 1806.0,603.5 1829.0,593.4 1860.0,577.0 1893.0,560.7 1917.0,551.2 1929.0,543.4 1941.0,537.3 1953.0,529.5 1965.0,523.4 1977.0,517.3 1989.0,509.1 2000.0,503.7 2045.0,480.0 2061.0,466.3 2085.0,449.9 2109.0,429.6 2133.0,415.1 2145.0,407.4 2157.0,398.7 2181.0,387.1 2193.0,383.3 2205.0,377.5 2217.0,373.6 2229.0,368.0 2241.0,362.3 2253.0,356.7 2265.0,350.1 2277.0,344.6 2289.0,344.9 2301.0,344.9 2313.0,348.4 2325.0,350.5 2337.0,354.5 2349.0,356.6 2361.0,356.7 2373.0,358.8 2385.0,360.6 2397.0,362.3 2409.0,363.2 2421.0,364.9 2433.0,366.6 2445.0,367.2 2457.0,367.5 2469.0,367.2 2481.0,366.8 2493.0,362.4 2505.0,360.7 2517.0,358.8 2529.0,354.7 2541.0,352.8 2553.0,344.3 2565.0,335.9 2577.0,332.2 2589.0,326.9 2601.0,319.0 2613.0,310.5 2625.0,297.2 2637.0,287.6 2649.0,277.9 2661.0,268.3 2673.0,258.6 2685.0,249.0" fill="none" stroke="#dd44c3" stroke-width="2.1" stroke-linejoin="round" stroke-opacity="0.46"/>
<line x1="70" y1="291" x2="2685" y2="291" stroke="#7175cc" stroke-width="2"/>
</g>
<line x1="597.6" y1="663.1" x2="2685" y2="144.8" stroke="#a52cd3" stroke-width="2.15"/>
<line x1="1005.2" y1="739" x2="2685" y2="325.6" stroke="#0e8edc" stroke-width="2.15"/>
<path d="M236 780.7 L250.85000000000002 785.9 Q252.05 786.5 252.05 788.2 L252.05 812 Q252.05 815.6 248.45000000000002 815.6 L223.54999999999998 815.6 Q219.95 815.6 219.95 812 L219.95 788.2 Q219.95 786.5 221.14999999999998 785.9 Z" fill="#fff" stroke="#fff" stroke-width="6.6" stroke-linejoin="round"/>
<path d="M236 780.7 L250.85000000000002 785.9 Q252.05 786.5 252.05 788.2 L252.05 812 Q252.05 815.6 248.45000000000002 815.6 L223.54999999999998 815.6 Q219.95 815.6 219.95 812 L219.95 788.2 Q219.95 786.5 221.14999999999998 785.9 Z" fill="#e8f6ea" stroke="#07a04c" stroke-width="3.6" stroke-linejoin="round"/>
<text transform="translate(235.5,808) scale(0.84,1)" font-size="24" text-anchor="middle" fill="#12783a" stroke="#12783a" stroke-width="0.7">E</text>
<path d="M932 780.7 L946.8499999999999 785.9 Q948.05 786.5 948.05 788.2 L948.05 812 Q948.05 815.6 944.4499999999999 815.6 L919.5500000000001 815.6 Q915.95 815.6 915.95 812 L915.95 788.2 Q915.95 786.5 917.1500000000001 785.9 Z" fill="#fff" stroke="#fff" stroke-width="6.6" stroke-linejoin="round"/>
<path d="M932 780.7 L946.8499999999999 785.9 Q948.05 786.5 948.05 788.2 L948.05 812 Q948.05 815.6 944.4499999999999 815.6 L919.5500000000001 815.6 Q915.95 815.6 915.95 812 L915.95 788.2 Q915.95 786.5 917.1500000000001 785.9 Z" fill="#e8f6ea" stroke="#07a04c" stroke-width="3.6" stroke-linejoin="round"/>
<text transform="translate(931.5,808) scale(0.84,1)" font-size="24" text-anchor="middle" fill="#12783a" stroke="#12783a" stroke-width="0.7">E</text>
<path d="M1712 780.7 L1726.85 785.9 Q1728.05 786.5 1728.05 788.2 L1728.05 812 Q1728.05 815.6 1724.45 815.6 L1699.55 815.6 Q1695.95 815.6 1695.95 812 L1695.95 788.2 Q1695.95 786.5 1697.15 785.9 Z" fill="#fff" stroke="#fff" stroke-width="6.6" stroke-linejoin="round"/>
<path d="M1712 780.7 L1726.85 785.9 Q1728.05 786.5 1728.05 788.2 L1728.05 812 Q1728.05 815.6 1724.45 815.6 L1699.55 815.6 Q1695.95 815.6 1695.95 812 L1695.95 788.2 Q1695.95 786.5 1697.15 785.9 Z" fill="#e8f6ea" stroke="#07a04c" stroke-width="3.6" stroke-linejoin="round"/>
<text transform="translate(1711.5,808) scale(0.84,1)" font-size="24" text-anchor="middle" fill="#12783a" stroke="#12783a" stroke-width="0.7">E</text>
<path d="M2480 818.75 L2494.8500000000004 813.55 Q2496.05 812.95 2496.05 811.25 L2496.05 787.45 Q2496.05 783.85 2492.4500000000003 783.85 L2467.5499999999997 783.85 Q2463.95 783.85 2463.95 787.45 L2463.95 811.25 Q2463.95 812.95 2465.1499999999996 813.55 Z" fill="#fff" stroke="#fff" stroke-width="6.6" stroke-linejoin="round"/>
<path d="M2480 818.75 L2494.8500000000004 813.55 Q2496.05 812.95 2496.05 811.25 L2496.05 787.45 Q2496.05 783.85 2492.4500000000003 783.85 L2467.5499999999997 783.85 Q2463.95 783.85 2463.95 787.45 L2463.95 811.25 Q2463.95 812.95 2465.1499999999996 813.55 Z" fill="#fdeeee" stroke="#f5464f" stroke-width="3.6" stroke-linejoin="round"/>
<text transform="translate(2479.5,807.8) scale(0.84,1)" font-size="24" text-anchor="middle" fill="#c8101e" stroke="#c8101e" stroke-width="0.7">E</text>
<circle cx="368" cy="800" r="21.2" fill="#fff"/>
<circle cx="368" cy="800" r="17.95" fill="#e9f1fd" stroke="#2e8dec" stroke-width="3.7"/>
<text x="368.8" y="808" font-size="24" text-anchor="middle" fill="#2759c5" stroke="#2759c5" stroke-width="0.5">D</text>
<circle cx="1124" cy="800" r="21.2" fill="#fff"/>
<circle cx="1124" cy="800" r="17.95" fill="#e9f1fd" stroke="#2e8dec" stroke-width="3.7"/>
<text x="1124.8" y="808" font-size="24" text-anchor="middle" fill="#2759c5" stroke="#2759c5" stroke-width="0.5">D</text>
<circle cx="1880" cy="800" r="21.2" fill="#fff"/>
<circle cx="1880" cy="800" r="17.95" fill="#e9f1fd" stroke="#2e8dec" stroke-width="3.7"/>
<text x="1880.8" y="808" font-size="24" text-anchor="middle" fill="#2759c5" stroke="#2759c5" stroke-width="0.5">D</text>
<circle cx="2636" cy="800" r="21.2" fill="#fff"/>
<circle cx="2636" cy="800" r="17.95" fill="#e9f1fd" stroke="#2e8dec" stroke-width="3.7"/>
<text x="2636.8" y="808" font-size="24" text-anchor="middle" fill="#2759c5" stroke="#2759c5" stroke-width="0.5">D</text>
<g clip-path="url(#cr)">
<path d="M69 969 L69 1012.6 L81 1002.9 L93 1004.9 L105 1008.8 L117 1008.8 L129 989.0 L141 995.0 L153 990.9 L165 987.0 L177 976.7 L189 974.8 L201 981.0 L213 972.8 L225 987.0 L237 966.8 L249 962.7 L261 978.9 L273 972.8 L285 966.8 L297 966.8 L309 982.9 L321 982.9 L333 989.0 L345 981.0 L357 998.9 L369 998.9 L381 1001.0 L393 998.9 L405 984.9 L417 984.9 L429 982.9 L441 995.0 L453 989.0 L465 993.0 L477 984.9 L489 982.9 L501 974.8 L513 972.8 L525 972.8 L537 976.7 L549 990.9 L561 990.9 L573 981.0 L585 981.0 L597 976.7 L609 990.9 L621 984.9 L633 978.9 L645 989.0 L657 989.0 L669 1027.1 L681 1027.1 L693 1029.2 L705 1001.0 L717 995.0 L729 976.7 L741 981.0 L753 982.9 L765 978.9 L777 989.0 L789 984.9 L801 995.0 L813 1008.8 L825 1002.9 L837 1008.8 L849 1004.9 L861 1010.9 L873 1008.8 L885 1018.9 L897 1018.9 L909 1012.9 L921 1002.9 L933 1001.0 L945 1008.8 L957 998.9 L969 1016.9 L981 1018.9 L993 1024.9 L1005 1018.9 L1017 1020.8 L1029 1014.8 L1041 1004.9 L1053 1002.9 L1065 1007.0 L1077 998.9 L1089 1002.9 L1101 1001.0 L1113 1001.0 L1125 996.9 L1137 978.9 L1149 984.9 L1161 982.9 L1173 987.0 L1185 990.9 L1197 982.9 L1209 989.0 L1221 987.0 L1233 976.7 L1245 968.7 L1257 972.8 L1269 974.8 L1281 981.0 L1293 984.9 L1305 981.0 L1317 995.0 L1329 990.9 L1341 984.9 L1353 1000.8 L1365 994.8 L1377 994.8 L1389 988.8 L1401 984.9 L1413 982.9 L1425 1002.8 L1437 998.9 L1449 996.9 L1461 992.9 L1473 992.9 L1485 998.9 L1497 994.8 L1509 1004.9 L1521 1006.9 L1533 992.9 L1545 984.9 L1557 988.8 L1569 990.9 L1581 987.0 L1593 996.9 L1605 994.8 L1617 1004.9 L1629 1004.9 L1641 998.9 L1653 981.0 L1665 975.0 L1677 973.0 L1689 969.0 L1701 962.9 L1713 981.0 L1725 970.9 L1737 967.0 L1749 975.0 L1761 969.0 L1773 967.0 L1785 974.9 L1797 965.0 L1809 959.0 L1821 952.9 L1833 952.9 L1845 948.9 L1857 959.0 L1869 963.0 L1881 959.0 L1893 957.0 L1905 954.9 L1917 954.9 L1929 944.8 L1941 942.8 L1953 940.9 L1965 940.9 L1977 942.8 L1989 952.9 L2001 952.9 L2013 959.0 L2025 952.9 L2037 948.9 L2049 936.8 L2061 930.8 L2073 944.8 L2085 959.0 L2097 957.0 L2109 954.9 L2121 972.9 L2133 978.8 L2145 972.9 L2157 971.0 L2169 970.8 L2181 970.8 L2193 983.1 L2205 976.7 L2217 989.1 L2229 993.1 L2241 986.8 L2253 986.8 L2265 977.0 L2277 971.0 L2289 997.0 L2301 986.9 L2313 1010.8 L2325 1010.8 L2337 1008.9 L2349 1004.8 L2361 1008.9 L2373 1008.9 L2385 1006.9 L2397 998.8 L2409 1000.9 L2421 998.8 L2433 1010.8 L2445 1000.9 L2457 1002.9 L2469 998.8 L2481 986.9 L2493 979.0 L2505 971.0 L2517 980.9 L2529 977.0 L2541 979.0 L2553 972.9 L2565 972.9 L2577 992.9 L2589 988.9 L2601 971.0 L2613 974.9 L2625 966.7 L2637 966.7 L2649 962.8 L2661 974.9 L2673 980.9 L2685 977.0 L2685 969 Z" fill="#dca0e6" clip-path="url(#c70)"/>
<line x1="70" y1="969" x2="2690" y2="969" stroke="#c878dd" stroke-width="2" shape-rendering="crispEdges"/>
<line x1="70" y1="1041" x2="2690" y2="1041" stroke="#56b6e8" stroke-width="2" shape-rendering="crispEdges"/>
<line x1="70" y1="1005" x2="2690" y2="1005" stroke="#ff7474" stroke-width="2" stroke-dasharray="6 6" shape-rendering="crispEdges"/>
<polyline points="69.0,1012.6 81.0,1002.9 93.0,1004.9 105.0,1008.8 117.0,1008.8 129.0,989.0 141.0,995.0 153.0,990.9 165.0,987.0 177.0,976.7 189.0,974.8 201.0,981.0 213.0,972.8 225.0,987.0 237.0,966.8 249.0,962.7 261.0,978.9 273.0,972.8 285.0,966.8 297.0,966.8 309.0,982.9 321.0,982.9 333.0,989.0 345.0,981.0 357.0,998.9 369.0,998.9 381.0,1001.0 393.0,998.9 405.0,984.9 417.0,984.9 429.0,982.9 441.0,995.0 453.0,989.0 465.0,993.0 477.0,984.9 489.0,982.9 501.0,974.8 513.0,972.8 525.0,972.8 537.0,976.7 549.0,990.9 561.0,990.9 573.0,981.0 585.0,981.0 597.0,976.7 609.0,990.9 621.0,984.9 633.0,978.9 645.0,989.0 657.0,989.0 669.0,1027.1 681.0,1027.1 693.0,1029.2 705.0,1001.0 717.0,995.0 729.0,976.7 741.0,981.0 753.0,982.9 765.0,978.9 777.0,989.0 789.0,984.9 801.0,995.0 813.0,1008.8 825.0,1002.9 837.0,1008.8 849.0,1004.9 861.0,1010.9 873.0,1008.8 885.0,1018.9 897.0,1018.9 909.0,1012.9 921.0,1002.9 933.0,1001.0 945.0,1008.8 957.0,998.9 969.0,1016.9 981.0,1018.9 993.0,1024.9 1005.0,1018.9 1017.0,1020.8 1029.0,1014.8 1041.0,1004.9 1053.0,1002.9 1065.0,1007.0 1077.0,998.9 1089.0,1002.9 1101.0,1001.0 1113.0,1001.0 1125.0,996.9 1137.0,978.9 1149.0,984.9 1161.0,982.9 1173.0,987.0 1185.0,990.9 1197.0,982.9 1209.0,989.0 1221.0,987.0 1233.0,976.7 1245.0,968.7 1257.0,972.8 1269.0,974.8 1281.0,981.0 1293.0,984.9 1305.0,981.0 1317.0,995.0 1329.0,990.9 1341.0,984.9 1353.0,1000.8 1365.0,994.8 1377.0,994.8 1389.0,988.8 1401.0,984.9 1413.0,982.9 1425.0,1002.8 1437.0,998.9 1449.0,996.9 1461.0,992.9 1473.0,992.9 1485.0,998.9 1497.0,994.8 1509.0,1004.9 1521.0,1006.9 1533.0,992.9 1545.0,984.9 1557.0,988.8 1569.0,990.9 1581.0,987.0 1593.0,996.9 1605.0,994.8 1617.0,1004.9 1629.0,1004.9 1641.0,998.9 1653.0,981.0 1665.0,975.0 1677.0,973.0 1689.0,969.0 1701.0,962.9 1713.0,981.0 1725.0,970.9 1737.0,967.0 1749.0,975.0 1761.0,969.0 1773.0,967.0 1785.0,974.9 1797.0,965.0 1809.0,959.0 1821.0,952.9 1833.0,952.9 1845.0,948.9 1857.0,959.0 1869.0,963.0 1881.0,959.0 1893.0,957.0 1905.0,954.9 1917.0,954.9 1929.0,944.8 1941.0,942.8 1953.0,940.9 1965.0,940.9 1977.0,942.8 1989.0,952.9 2001.0,952.9 2013.0,959.0 2025.0,952.9 2037.0,948.9 2049.0,936.8 2061.0,930.8 2073.0,944.8 2085.0,959.0 2097.0,957.0 2109.0,954.9 2121.0,972.9 2133.0,978.8 2145.0,972.9 2157.0,971.0 2169.0,970.8 2181.0,970.8 2193.0,983.1 2205.0,976.7 2217.0,989.1 2229.0,993.1 2241.0,986.8 2253.0,986.8 2265.0,977.0 2277.0,971.0 2289.0,997.0 2301.0,986.9 2313.0,1010.8 2325.0,1010.8 2337.0,1008.9 2349.0,1004.8 2361.0,1008.9 2373.0,1008.9 2385.0,1006.9 2397.0,998.8 2409.0,1000.9 2421.0,998.8 2433.0,1010.8 2445.0,1000.9 2457.0,1002.9 2469.0,998.8 2481.0,986.9 2493.0,979.0 2505.0,971.0 2517.0,980.9 2529.0,977.0 2541.0,979.0 2553.0,972.9 2565.0,972.9 2577.0,992.9 2589.0,988.9 2601.0,971.0 2613.0,974.9 2625.0,966.7 2637.0,966.7 2649.0,962.8 2661.0,974.9 2673.0,980.9 2685.0,977.0" fill="none" stroke="#000" stroke-width="2.3" stroke-linejoin="round" />
</g>
<g font-size="22.3" fill="#7a7a7a" stroke="#7a7a7a" stroke-width="0.55" filter="url(#bl)">
<text transform="translate(2705.8,203.9) scale(0.945,1)">40.00</text>
<text transform="translate(2705.8,321.9) scale(0.945,1)">35.00</text>
<text transform="translate(2705.8,439.9) scale(0.945,1)">30.00</text>
<text transform="translate(2705.8,557.9) scale(0.945,1)">25.00</text>
<text transform="translate(2705.8,675.9) scale(0.945,1)">20.00</text>
<text transform="translate(2705.8,793.9) scale(0.945,1)">15.00</text>
<text transform="translate(65.8,710.6) scale(0.945,1)" text-anchor="end">80M</text>
<text transform="translate(65.8,740.5) scale(0.945,1)" text-anchor="end">60M</text>
<text transform="translate(65.8,770.3) scale(0.945,1)" text-anchor="end">40M</text>
<text transform="translate(65.8,800.3) scale(0.945,1)" text-anchor="end">20M</text>
</g>
<g font-size="21" fill="#808080" stroke="#808080" stroke-width="0.25" filter="url(#bl2)">
<text x="152" y="856.8" text-anchor="middle">Feb</text>
<text x="380" y="856.8" text-anchor="middle">Mar</text>
<text x="632" y="856.8" text-anchor="middle">Apr</text>
<text x="884" y="856.8" text-anchor="middle">May</text>
<text x="1136" y="856.8" text-anchor="middle">Jun</text>
<text x="1376" y="856.8" text-anchor="middle">Jul</text>
<text x="1640" y="856.8" text-anchor="middle">Aug</text>
<text x="1892" y="856.8" text-anchor="middle">Sep</text>
<text x="2144" y="856.8" text-anchor="middle">Oct</text>
<text x="2420" y="856.8" text-anchor="middle">Nov</text>
<text x="2648" y="856.8" text-anchor="middle">Dec</text>
</g>
<g font-size="21.5" fill="#7f7f7f" stroke="#7f7f7f" stroke-width="0.3">
<text x="2706" y="920.0">100</text>
<text x="2706" y="956.0">80</text>
<text x="2706" y="992.0">60</text>
<text x="2706" y="1028.0">40</text>
<text x="2706" y="1064.0">20</text>
<text x="2706" y="1100.0">0</text>
</g>
<rect x="2702" y="162" width="60" height="24" fill="#fff200"/>
<text transform="translate(2705.8,182) scale(0.945,1)" font-size="22.3" fill="#23262f" stroke="#23262f" stroke-width="0.7" filter="url(#bl)">40.91</text>
<rect x="2702" y="962" width="60" height="24" fill="#4a4f63"/>
<text x="2706" y="981.6" font-size="21" fill="#fff" stroke="#fff" stroke-width="0.3">65.06</text>
<rect x="22" y="100" width="592" height="40" fill="#fff" opacity="0.92"/>
<rect x="22" y="140" width="166" height="100" fill="#fff" opacity="0.82"/>
<text x="26" y="40" font-size="38" font-weight="bold" fill="#333848" textLength="92" lengthAdjust="spacingAndGlyphs" style="font-family:'Liberation Serif',serif">finviz</text>
<circle cx="94.3" cy="16.05" r="3.75" fill="#4fa9fc"/>
<text transform="translate(24.3,90.9) scale(0.975,1.065)" x="0" y="0" font-size="48.5" font-weight="bold" fill="#687087">B</text>
<text transform="translate(1393.3,82.2) scale(1,1.04)" font-size="29.33" font-weight="bold" fill="#9fa5b9" text-anchor="middle">DAILY</text>
<text x="2771" y="37.2" font-size="26.67" font-weight="bold" fill="#626a81" text-anchor="end">Thu DEC 04 2025 4:15 PM ET</text>
<text x="2770.5" y="82" font-size="29.33" font-weight="bold" fill="#009500" text-anchor="end">+0.41 (1.01%)</text>
<g font-size="21.6">
<text x="26" y="124.2" fill="#a0a6bb">Dec 4</text>
<text x="111.3" y="124.2" fill="#a0a6bb">O</text><text x="131.6" y="124.2" fill="#00a349">40.20</text>
<text x="215.3" y="124.2" fill="#a0a6bb">H</text><text x="233.5" y="124.2" fill="#00a349">41.10</text>
<text x="317.3" y="124.2" fill="#a0a6bb">L</text><text x="331.3" y="124.2" fill="#00a349">40.16</text>
<text x="415.5" y="124.2" fill="#a0a6bb">C</text><text x="433.3" y="124.2" fill="#00a349">40.91</text>
<text x="518" y="124.2" fill="#a0a6bb">Vol</text><text x="549.5" y="124.2" fill="#00a349">8.17M</text>
<text x="25.5" y="159.8" fill="#f4aee3">SMA 20</text><circle cx="113.3" cy="152.3" r="1.25" fill="#8a8a8a"/><text x="125.5" y="159.8" fill="#f4aee3">37.89</text>
<text x="25.5" y="195.9" fill="#ffa25e">SMA 50</text><circle cx="113.3" cy="188.4" r="1.25" fill="#8a8a8a"/><text x="125.5" y="195.9" fill="#ffa25e">35.05</text>
<text x="25.5" y="232.1" fill="#efd9a3">SMA 200</text><circle cx="125.2" cy="224.6" r="1.25" fill="#8a8a8a"/><text x="137.3" y="232.1" fill="#efd9a3">24.87</text>
</g>
<rect x="12" y="896" width="111.5" height="49" rx="10" fill="#f3f3f6"/>
<text x="24.5" y="930.5" font-size="26" font-weight="bold" fill="#161a25">RSI 14</text>
<text x="154" y="930.5" font-size="26" fill="#161616">65.06</text>
</svg></body></html>
